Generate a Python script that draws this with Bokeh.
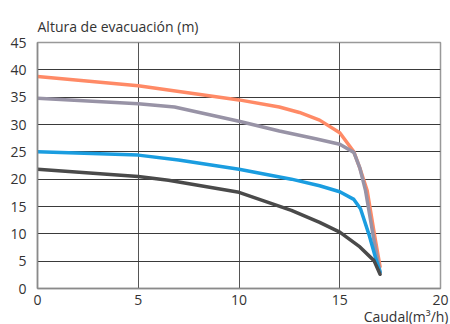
from bokeh.plotting import figure
from bokeh.models import Range1d, FixedTicker, Title
from bokeh.embed import file_html
from bokeh.resources import INLINE

# Data
orange_x = [0, 5, 10, 12, 13, 14, 15, 15.7, 16.0, 16.36, 16.77, 17.0]
orange_y = [38.8, 37.1, 34.5, 33.2, 32.2, 30.8, 28.5, 25.0, 22.0, 17.9, 8.8, 4.0]

gray_x = [0, 5, 6.8, 10, 12, 13.8, 15, 15.7, 16.0, 16.28, 16.7, 17.0]
gray_y = [34.8, 33.8, 33.2, 30.6, 28.8, 27.4, 26.4, 24.9, 22.0, 17.9, 8.8, 3.0]

blue_x = [0, 5, 7, 10, 12.6, 14, 15, 15.7, 16.03, 16.44, 16.77, 17.0]
blue_y = [25.0, 24.4, 23.5, 21.8, 20.0, 18.8, 17.7, 16.3, 14.6, 10.0, 5.7, 3.0]

dark_x = [0, 5, 6.5, 10, 12.6, 14, 15, 16.0, 16.7, 17.0]
dark_y = [21.8, 20.5, 19.8, 17.6, 14.3, 12.1, 10.3, 7.6, 5.1, 2.6]

x_ticks = [0, 5, 10, 15, 20]
y_ticks = [0, 5, 10, 15, 20, 25, 30, 35, 40, 45]

FONT = "Open Sans"
TXT = "#333333"

p = figure(width=450, height=324, output_backend="svg", toolbar_location=None,
           x_range=Range1d(0, 20), y_range=Range1d(0, 45),
           min_border_left=37, min_border_right=10, min_border_top=42, min_border_bottom=36)
p.background_fill_color = "white"
p.border_fill_color = "white"
p.outline_line_color = "#999999"
p.outline_line_width = 1.5

p.title = Title(text="Altura de evacuación (m)", align="left", text_font=FONT,
                text_font_size="14px", text_color=TXT, text_font_style="normal",
                standoff=14, offset=0)

p.add_layout(Title(text="Caudal(m³/h)", align="right", text_font=FONT,
                   text_font_size="14px", text_color=TXT, text_font_style="normal",
                   standoff=-6, offset=-8), "below")

p.xaxis.ticker = FixedTicker(ticks=x_ticks)
p.yaxis.ticker = FixedTicker(ticks=y_ticks)
for ax in (p.xaxis, p.yaxis):
    ax.major_tick_line_color = None
    ax.minor_tick_line_color = None
    ax.axis_line_color = "#8a8a8a"
    ax.axis_line_width = 1.5
    ax.major_label_text_font = FONT
    ax.major_label_text_font_size = "14px"
    ax.major_label_text_color = TXT
p.yaxis.major_label_standoff = 5
p.xaxis.major_label_standoff = 0

p.xgrid.grid_line_color = "#555555"
p.xgrid.grid_line_width = 1
p.ygrid.grid_line_color = "#3a3a3a"
p.ygrid.grid_line_width = 1

for xs, ys, c in [(orange_x, orange_y, "#FF8A66"),
                  (gray_x, gray_y, "#9893A6"),
                  (blue_x, blue_y, "#1A9DE0"),
                  (dark_x, dark_y, "#4A4A4A")]:
    p.line(xs, ys, line_color=c, line_width=3.5, line_join="round", line_cap="round")

open("out.html", "w").write(file_html(p, INLINE))
